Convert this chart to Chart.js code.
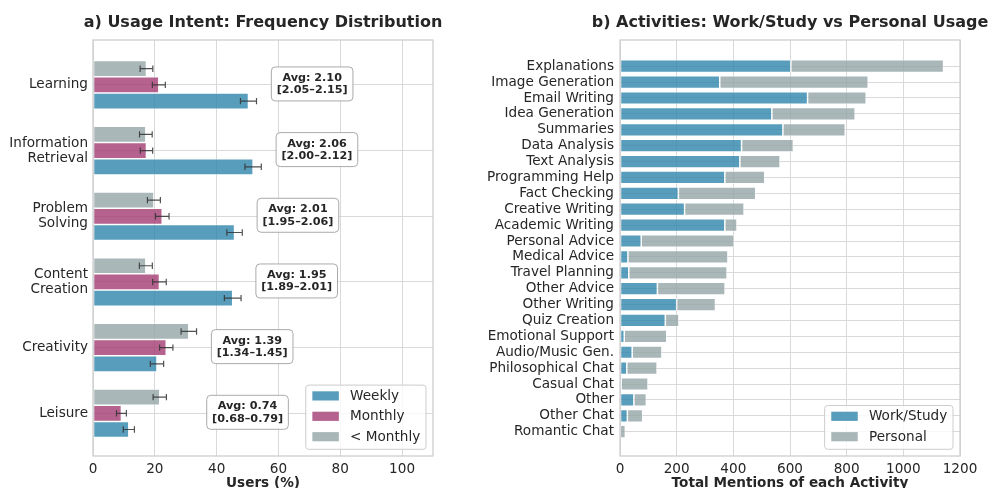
<!DOCTYPE html>
<html><head><meta charset="utf-8">
<script src="https://cdn.jsdelivr.net/npm/chart.js@4.4.1/dist/chart.umd.min.js"></script>
<style>
html,body{margin:0;padding:0;background:#fff;overflow:hidden;width:990px;height:488px}
#w1{position:absolute;left:0;top:0;width:480px;height:500px}
#w2{position:absolute;left:480px;top:0;width:510px;height:500px}
</style></head><body>
<div id="w1"><canvas id="c1" width="480" height="500"></canvas></div>
<div id="w2"><canvas id="c2" width="510" height="500"></canvas></div>
<script>
// ---------- Panel a data ----------
const intentCategories = ['Learning', ['Information','Retrieval'], ['Problem','Solving'], ['Content','Creation'], 'Creativity', 'Leisure'];
const weekly       = [50.3, 51.8, 45.8, 45.2, 20.7, 11.6];
const weeklyErr    = [2.6, 2.65, 2.5, 2.7, 2.15, 1.8];
const monthly      = [21.3, 17.3, 22.4, 21.5, 23.7, 9.2];
const monthlyErr   = [2.1, 2.0, 2.2, 2.2, 2.15, 1.6];
const lessMonthly  = [17.3, 17.1, 19.7, 17.1, 31.0, 21.6];
const lessErr      = [2.05, 2.05, 2.1, 2.1, 2.5, 2.15];
const avgScore     = ['2.10', '2.06', '2.01', '1.95', '1.39', '0.74'];
const ciLow        = ['2.05', '2.00', '1.95', '1.89', '1.34', '0.68'];
const ciHigh       = ['2.15', '2.12', '2.06', '2.01', '1.45', '0.79'];
const usersTicks   = [0, 20, 40, 60, 80, 100];

// ---------- Panel b data ----------
const activities = ['Explanations','Image Generation','Email Writing','Idea Generation','Summaries','Data Analysis','Text Analysis','Programming Help','Fact Checking','Creative Writing','Academic Writing','Personal Advice','Medical Advice','Travel Planning','Other Advice','Other Writing','Quiz Creation','Emotional Support','Audio/Music Gen.','Philosophical Chat','Casual Chat','Other','Other Chat','Romantic Chat'];
const workStudy = [603, 352, 662, 536, 575, 429, 423, 370, 206, 228, 370, 75, 28, 31, 132, 200, 160, 15, 43, 24, 4, 49, 26, 1];
const personal  = [539, 524, 207, 294, 220, 183, 142, 141, 273, 210, 43, 328, 353, 347, 239, 137, 48, 150, 105, 107, 95, 44, 54, 18];
const mentionTicks = [0, 200, 400, 600, 800, 1000, 1200];

// ---------- styling ----------
const FONT = '"DejaVu Sans", "Liberation Sans", sans-serif';
const TXT = '#262626';
const BLUE = 'rgba(46,134,171,0.8)';
const PINK = 'rgba(162,59,114,0.8)';
const GRAY = 'rgba(149,165,166,0.8)';
const GRID = '#d9d9d9';
Chart.defaults.font.family = FONT;
Chart.defaults.font.size = 13.6;
Chart.defaults.color = TXT;
Chart.defaults.animation = false;

function roundRect(ctx, x, y, w, h, r) {
  ctx.beginPath();
  ctx.moveTo(x + r, y);
  ctx.lineTo(x + w - r, y); ctx.arcTo(x + w, y, x + w, y + r, r);
  ctx.lineTo(x + w, y + h - r); ctx.arcTo(x + w, y + h, x + w - r, y + h, r);
  ctx.lineTo(x + r, y + h); ctx.arcTo(x, y + h, x, y + h - r, r);
  ctx.lineTo(x, y + r); ctx.arcTo(x, y, x + r, y, r);
  ctx.closePath();
}

const framePlugin = {
  id: 'frame',
  afterDatasetsDraw(chart) {
    const {ctx, chartArea: a} = chart;
    ctx.save();
    ctx.strokeStyle = '#cccccc';
    ctx.lineWidth = 1.25;
    ctx.strokeRect(a.left, a.top, a.right - a.left, a.bottom - a.top);
    ctx.restore();
  }
};

const titlePlugin = {
  id: 'ptitle',
  afterDraw(chart, args, opts) {
    const {ctx, chartArea: a} = chart;
    ctx.save();
    ctx.font = 'bold 16px ' + FONT;
    ctx.fillStyle = TXT;
    ctx.textAlign = 'center';
    ctx.textBaseline = 'alphabetic';
    ctx.fillText(opts.text, (a.left + a.right) / 2, 27.3);
    ctx.restore();
  }
};

const legendPlugin = {
  id: 'plegend',
  afterDraw(chart, args, opts) {
    const {ctx, chartArea: a} = chart;
    const items = opts.items;
    ctx.save();
    ctx.font = '13.6px ' + FONT;
    let tw = 0;
    items.forEach(it => { tw = Math.max(tw, ctx.measureText(it.label).width); });
    const w = 44.3 + tw + 5.8;
    const h = items.length * 20.4 + 3;
    const x = a.right - 7 - w;
    const y = a.bottom - 6.7 - h;
    roundRect(ctx, x, y, w, h, 3);
    ctx.fillStyle = 'rgba(255,255,255,0.8)';
    ctx.fill();
    ctx.strokeStyle = '#cccccc';
    ctx.lineWidth = 1;
    ctx.stroke();
    items.forEach((it, k) => {
      const cy = y + 10.8 + k * 20.4;
      ctx.fillStyle = it.color;
      ctx.fillRect(x + 6.6, cy - 4.6, 26.5, 9.2);
      ctx.fillStyle = TXT;
      ctx.textAlign = 'left';
      ctx.textBaseline = 'middle';
      ctx.fillText(it.label, x + 44.3, cy + 0.5);
    });
    ctx.restore();
  }
};

const errorAnnotPlugin = {
  id: 'errannot',
  afterDatasetsDraw(chart) {
    const {ctx} = chart;
    const xs = chart.scales.x, ys = chart.scales.y;
    ctx.save();
    // error bars
    ctx.strokeStyle = 'rgba(50,50,50,0.85)';
    ctx.lineWidth = 1.2;
    chart.data.datasets.forEach((ds, d) => {
      const meta = chart.getDatasetMeta(d);
      meta.data.forEach((el, i) => {
        const v = ds.data[i].x, e = ds.errors[i];
        const x1 = xs.getPixelForValue(v - e), x2 = xs.getPixelForValue(v + e), y = el.y;
        ctx.beginPath();
        ctx.moveTo(x1, y); ctx.lineTo(x2, y);
        ctx.moveTo(x1, y - 3.2); ctx.lineTo(x1, y + 3.2);
        ctx.moveTo(x2, y - 3.2); ctx.lineTo(x2, y + 3.2);
        ctx.stroke();
      });
    });
    // annotation boxes
    ctx.font = 'bold 11.2px ' + FONT;
    intentCategories.forEach((c, i) => {
      const top = Math.max(weekly[i] + weeklyErr[i], monthly[i] + monthlyErr[i], lessMonthly[i] + lessErr[i]);
      const pos = Math.max(top + 18, 50);
      const cx = xs.getPixelForValue(pos);
      const cy = ys.getPixelForValue(i) - 1;
      const l1 = 'Avg: ' + avgScore[i];
      const l2 = '[' + ciLow[i] + '\u2013' + ciHigh[i] + ']';
      const tw = Math.max(ctx.measureText(l1).width, ctx.measureText(l2).width);
      const w = tw + 10.6, h = 34;
      roundRect(ctx, cx - w / 2, cy - h / 2, w, h, 4);
      ctx.fillStyle = 'rgba(255,255,255,0.92)';
      ctx.fill();
      ctx.strokeStyle = '#aaaaaa';
      ctx.lineWidth = 1;
      ctx.stroke();
      ctx.fillStyle = TXT;
      ctx.textAlign = 'center';
      ctx.textBaseline = 'middle';
      ctx.fillText(l1, cx, cy - 6);
      ctx.fillText(l2, cx, cy + 6.6);
    });
    ctx.restore();
  }
};

// ---------- Chart a ----------
const barStyle = {borderColor: '#ffffff', borderWidth: 0.75, borderSkipped: false};
new Chart(document.getElementById('c1'), {
  type: 'bar',
  data: {
    datasets: [
      Object.assign({label: '< Monthly', data: lessMonthly.map((v, i) => ({x: v, y: i})), errors: lessErr, backgroundColor: GRAY}, barStyle),
      Object.assign({label: 'Monthly', data: monthly.map((v, i) => ({x: v, y: i})), errors: monthlyErr, backgroundColor: PINK}, barStyle),
      Object.assign({label: 'Weekly', data: weekly.map((v, i) => ({x: v, y: i})), errors: weeklyErr, backgroundColor: BLUE}, barStyle)
    ]
  },
  options: {
    responsive: false,
    indexAxis: 'y',
    layout: {padding: {left: 0, right: 47, top: 40, bottom: 0}},
    datasets: {bar: {categoryPercentage: 0.74, barPercentage: 1.0}},
    plugins: {
      legend: {display: false},
      tooltip: {enabled: false},
      ptitle: {text: 'a) Usage Intent: Frequency Distribution'},
      plegend: {items: [{label: 'Weekly', color: BLUE}, {label: 'Monthly', color: PINK}, {label: '< Monthly', color: GRAY}]}
    },
    scales: {
      x: {
        type: 'linear', position: 'bottom', min: 0, max: 110, offset: false,
        afterBuildTicks(s) { s.ticks = usersTicks.map(v => ({value: v})); },
        ticks: {padding: 5, color: TXT, font: {size: 13.6}, callback: (v) => String(v)},
        grid: {color: GRID, lineWidth: 1, drawTicks: false, offset: false},
        border: {display: false},
        title: {display: true, text: 'Users (%)', color: TXT, font: {size: 13.6, weight: 'bold'}, padding: {top: 0, bottom: 8}},
        afterFit(s) { s.height = 44; }
      },
      y: {
        type: 'linear', position: 'left', reverse: true, min: -0.684, max: 5.65, offset: false,
        afterBuildTicks(s) { s.ticks = intentCategories.map((c, i) => ({value: i})); },
        ticks: {autoSkip: false, padding: 5, color: TXT, font: {size: 13.6, lineHeight: 1.1}, callback: (v) => intentCategories[v]},
        grid: {color: GRID, lineWidth: 1, drawTicks: false, offset: false},
        border: {display: false},
        afterFit(s) { s.width = 93; }
      }
    }
  },
  plugins: [framePlugin, errorAnnotPlugin, titlePlugin, legendPlugin]
});

// ---------- Chart b ----------
new Chart(document.getElementById('c2'), {
  type: 'bar',
  data: {
    datasets: [
      Object.assign({label: 'Work/Study', data: workStudy.map((v, i) => ({x: v, y: i})), backgroundColor: BLUE}, barStyle),
      Object.assign({label: 'Personal', data: personal.map((v, i) => ({x: v, y: i})), backgroundColor: GRAY}, barStyle)
    ]
  },
  options: {
    responsive: false,
    indexAxis: 'y',
    layout: {padding: {left: 0, right: 30, top: 40, bottom: 0}},
    datasets: {bar: {categoryPercentage: 0.8, barPercentage: 1.0}},
    plugins: {
      legend: {display: false},
      tooltip: {enabled: false},
      ptitle: {text: 'b) Activities: Work/Study vs Personal Usage'},
      plegend: {items: [{label: 'Work/Study', color: BLUE}, {label: 'Personal', color: GRAY}]}
    },
    scales: {
      x: {
        type: 'linear', position: 'bottom', stacked: true, min: 0, max: 1200, offset: false,
        afterBuildTicks(s) { s.ticks = mentionTicks.map(v => ({value: v})); },
        ticks: {padding: 5, color: TXT, font: {size: 13.6}, callback: (v) => String(v)},
        grid: {color: GRID, lineWidth: 1, drawTicks: false, offset: false},
        border: {display: false},
        title: {display: true, text: 'Total Mentions of each Activity', color: TXT, font: {size: 13.6, weight: 'bold'}, padding: {top: 0, bottom: 8}},
        afterFit(s) { s.height = 44; }
      },
      y: {
        type: 'linear', position: 'left', stacked: true, reverse: true, min: -1.65, max: 24.53, offset: false,
        afterBuildTicks(s) { s.ticks = activities.map((c, i) => ({value: i})); },
        ticks: {autoSkip: false, padding: 6, color: TXT, font: {size: 13.6}, callback: (v) => activities[v]},
        grid: {color: GRID, lineWidth: 1, drawTicks: false, offset: false},
        border: {display: false},
        afterFit(s) { s.width = 140; }
      }
    }
  },
  plugins: [framePlugin, titlePlugin, legendPlugin]
});
</script>
</body></html>
